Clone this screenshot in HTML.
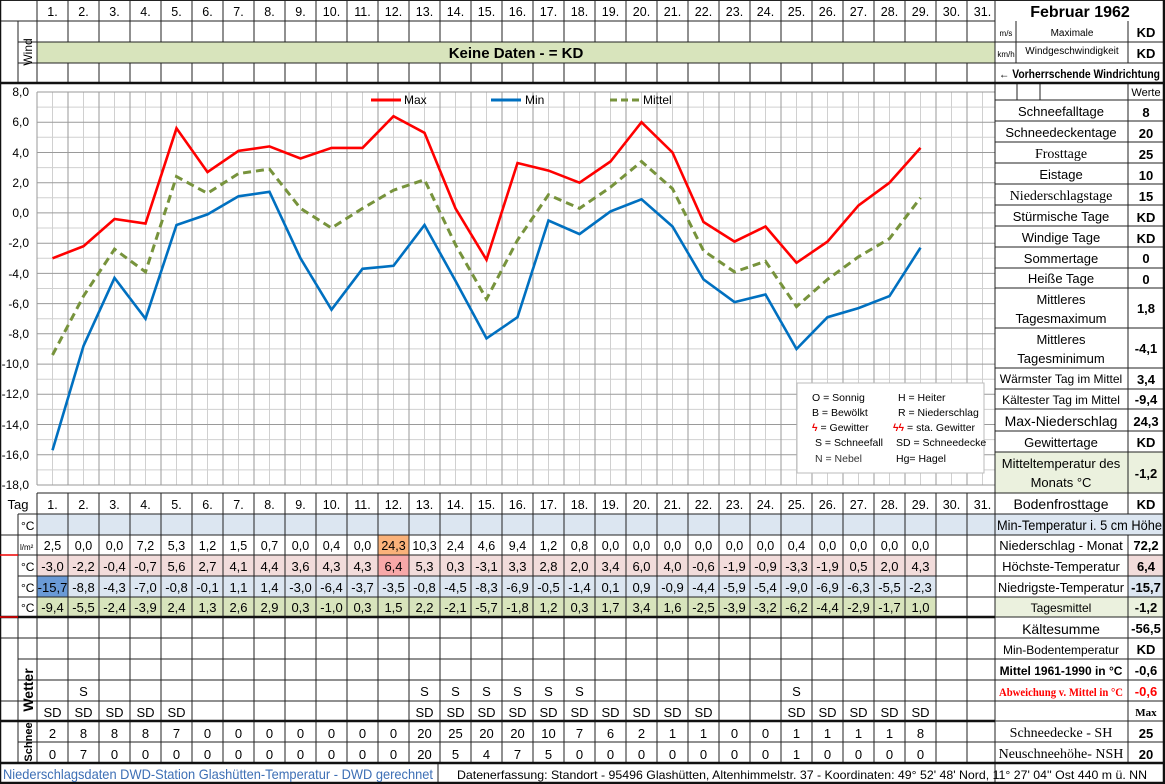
<!DOCTYPE html>
<html><head><meta charset="utf-8"><style>
html,body{margin:0;padding:0;background:#fff}
svg{display:block}
text{font-family:"Liberation Sans",sans-serif}
.n{font-size:12.5px;text-anchor:middle}
.h{font-size:12.5px;text-anchor:middle}
.r{font-size:13px;text-anchor:middle}
.v{font-size:13px;text-anchor:middle;font-weight:bold}
.s{font-family:"Liberation Serif",serif}
</style></head><body>
<svg width="1165" height="784" viewBox="0 0 1165 784" xmlns="http://www.w3.org/2000/svg">
<rect width="1165" height="784" fill="#fff"/>
<rect x="37" y="42" width="958" height="21" fill="#d8e4bc"/>
<text x="516" y="58" font-size="15" font-weight="bold" text-anchor="middle">Keine Daten -  = KD</text>

<g stroke="#d0d0d0" stroke-width="1">
<path d="M37 107.1H995M37 137.3H995M37 167.6H995M37 197.8H995M37 228H995M37 258.3H995M37 288.5H995M37 318.7H995M37 348.9H995M37 379.2H995M37 409.4H995M37 439.6H995M37 469.9H995"/>
<path d="M52.5 92V485M83.5 92V485M114.5 92V485M145.5 92V485M176.5 92V485M207.5 92V485M238.5 92V485M269.5 92V485M300.5 92V485M331.5 92V485M362.5 92V485M393.5 92V485M424.5 92V485M455.5 92V485M486.5 92V485M517.5 92V485M548.5 92V485M579.5 92V485M610.5 92V485M641.5 92V485M672.5 92V485M703.5 92V485M734.5 92V485M765.5 92V485M796.5 92V485M827.5 92V485M858.5 92V485M889.5 92V485M920.5 92V485M951.5 92V485M982.5 92V485"/>
</g>
<g stroke="#9a9a9a" stroke-width="1">
<path d="M37 92H995M37 122.2H995M37 152.5H995M37 182.7H995M37 212.9H995M37 243.2H995M37 273.4H995M37 303.6H995M37 333.8H995M37 364.1H995M37 394.3H995M37 424.5H995M37 454.8H995M37 485H995"/>
<path d="M37 92V485M68 92V485M99 92V485M130 92V485M161 92V485M192 92V485M223 92V485M254 92V485M285 92V485M316 92V485M347 92V485M378 92V485M409 92V485M440 92V485M471 92V485M502 92V485M533 92V485M564 92V485M595 92V485M626 92V485M657 92V485M688 92V485M719 92V485M750 92V485M781 92V485M812 92V485M843 92V485M874 92V485M905 92V485M936 92V485M967 92V485"/>
</g>
<g font-size="12" text-anchor="end">
<text x="29" y="96">8,0</text><text x="29" y="126">6,0</text><text x="29" y="157">4,0</text><text x="29" y="187">2,0</text><text x="29" y="217">0,0</text><text x="29" y="247">-2,0</text><text x="29" y="278">-4,0</text><text x="29" y="308">-6,0</text><text x="29" y="338">-8,0</text><text x="29" y="368">-10,0</text><text x="29" y="398">-12,0</text><text x="29" y="429">-14,0</text><text x="29" y="459">-16,0</text><text x="29" y="489">-18,0</text>
</g>
<line x1="371" y1="100" x2="401" y2="100" stroke="#ff0000" stroke-width="3"/>
<text x="404" y="104" font-size="12">Max</text>
<line x1="491" y1="100" x2="521" y2="100" stroke="#0070c0" stroke-width="3"/>
<text x="525" y="104" font-size="12">Min</text>
<line x1="610" y1="100" x2="639" y2="100" stroke="#77933c" stroke-width="3" stroke-dasharray="7,4"/>
<text x="643" y="104" font-size="12">Mittel</text>
<polyline fill="none" stroke="#77933c" stroke-width="3" stroke-dasharray="8,5" points="52.5,355 83.5,296.1 114.5,249.2 145.5,271.9 176.5,176.6 207.5,193.3 238.5,173.6 269.5,169.1 300.5,208.4 331.5,228 362.5,208.4 393.5,190.2 424.5,179.7 455.5,244.7 486.5,299.1 517.5,240.1 548.5,194.8 579.5,208.4 610.5,187.2 641.5,161.5 672.5,188.7 703.5,250.7 734.5,271.9 765.5,261.3 796.5,306.6 827.5,279.4 858.5,256.8 889.5,238.6 920.5,197.8"/>
<polyline fill="none" stroke="#0070c0" stroke-width="2.6" points="52.5,450.2 83.5,345.9 114.5,277.9 145.5,318.7 176.5,225 207.5,214.4 238.5,196.3 269.5,191.8 300.5,258.3 331.5,309.7 362.5,268.8 393.5,265.8 424.5,225 455.5,280.9 486.5,338.4 517.5,317.2 548.5,220.5 579.5,234.1 610.5,211.4 641.5,199.3 672.5,226.5 703.5,279.4 734.5,302.1 765.5,294.5 796.5,349 827.5,317.2 858.5,308.1 889.5,296.1 920.5,247.7"/>
<polyline fill="none" stroke="#ff0000" stroke-width="2.6" points="52.5,258.3 83.5,246.2 114.5,219 145.5,223.5 176.5,128.3 207.5,172.1 238.5,150.9 269.5,146.4 300.5,158.5 331.5,147.9 362.5,147.9 393.5,116.2 424.5,132.8 455.5,208.4 486.5,259.8 517.5,163 548.5,170.6 579.5,182.7 610.5,161.5 641.5,122.2 672.5,152.5 703.5,222 734.5,241.6 765.5,226.5 796.5,262.8 827.5,241.6 858.5,205.4 889.5,182.7 920.5,147.9"/>
<rect x="797" y="383" width="187" height="90" fill="#fff" stroke="#bbb"/>
<g font-size="10.5">
<text x="812" y="401">O = Sonnig</text><text x="898" y="401">H = Heiter</text>
<text x="812" y="416">B = Bewölkt</text><text x="898" y="416">R = Niederschlag</text>
<text x="812" y="431"><tspan fill="#e00" font-weight="bold">ϟ</tspan> = Gewitter</text><text x="893" y="431"><tspan fill="#e00" font-weight="bold">ϟϟ</tspan> = sta. Gewitter</text>
<text x="815" y="446">S = Schneefall</text><text x="896" y="446">SD = Schneedecke</text>
<text x="815" y="462" fill="#333">N = Nebel</text><text x="896" y="462">Hg=  Hagel</text>
</g>

<rect x="37" y="514" width="958" height="21" fill="#dce6f1"/>
<rect x="37" y="555" width="899" height="21" fill="#f2dcdb"/>
<rect x="37" y="576" width="899" height="21" fill="#dce6f1"/>
<rect x="37" y="597" width="899" height="20" fill="#d8e4bc"/>
<rect x="378" y="535" width="31" height="20" fill="#fab27a"/>
<rect x="378" y="555" width="31" height="21" fill="#f7a8a8"/>
<rect x="37" y="576" width="31" height="21" fill="#6a9ad6"/>

<rect x="995" y="452" width="170" height="41" fill="#ebf1de"/>
<rect x="995" y="514" width="170" height="21" fill="#dce6f1"/>
<rect x="1128" y="555" width="37" height="21" fill="#f2dcdb"/>
<rect x="1128" y="576" width="37" height="21" fill="#dce6f1"/>
<rect x="995" y="597" width="170" height="20" fill="#ebf1de"/>

<g stroke="#222" stroke-width="1" fill="none">
<path d="M0 21H995M18 42H1165M18 63H1165M0 0.5H1165"/>
<path d="M18 21V83M37 0V83M68 0V42M99 0V42M130 0V42M161 0V42M192 0V42M223 0V42M254 0V42M285 0V42M316 0V42M347 0V42M378 0V42M409 0V42M440 0V42M471 0V42M502 0V42M533 0V42M564 0V42M595 0V42M626 0V42M657 0V42M688 0V42M719 0V42M750 0V42M781 0V42M812 0V42M843 0V42M874 0V42M905 0V42M936 0V42M967 0V42"/>
<path d="M68 63V83M99 63V83M130 63V83M161 63V83M192 63V83M223 63V83M254 63V83M285 63V83M316 63V83M347 63V83M378 63V83M409 63V83M440 63V83M471 63V83M502 63V83M533 63V83M564 63V83M595 63V83M626 63V83M657 63V83M688 63V83M719 63V83M750 63V83M781 63V83M812 63V83M843 63V83M874 63V83M905 63V83M936 63V83M967 63V83"/>
<path d="M37 493H1165M18 514H1165M0 535H1165M18 555H1165M18 576H1165M18 597H1165M0 638H1165M18 659H1165M18 680H1165M0 701H1165M18 742H1165"/>
<path d="M18 514V763M37 493V763M68 493V763M99 493V763M130 493V763M161 493V763M192 493V763M223 493V763M254 493V763M285 493V763M316 493V763M347 493V763M378 493V763M409 493V763M440 493V763M471 493V763M502 493V763M533 493V763M564 493V763M595 493V763M626 493V763M657 493V763M688 493V763M719 493V763M750 493V763M781 493V763M812 493V763M843 493V763M874 493V763M905 493V763M936 493V763M967 493V763"/>
<path d="M995 0V784M1128 21V63M1016 21V63M1128 83V514M1128 535V763M1017 83V100M1040 83V100M995 100H1165"/>
<path d="M995 121H1165M995 142H1165M995 163H1165M995 184H1165M995 205H1165M995 226H1165M995 247H1165M995 268H1165M995 288H1165M995 328H1165M995 368H1165M995 389H1165M995 409H1165M995 431H1165M995 452H1165M995 617H1165M995 721H1165M438 763V784"/>
</g>
<g stroke="#111" stroke-width="2.5" fill="none">
<path d="M0 83H1165M0 617H995M0 721H995M0 763H1165M0 783H1165M1164 0V784M0 0V784"/>
</g>
<path d="M0 555H18M0 617H18" stroke="#e00" stroke-width="1.5"/>

<g class="h">
<text x="52.5" y="16">1.</text><text x="83.5" y="16">2.</text><text x="114.5" y="16">3.</text><text x="145.5" y="16">4.</text><text x="176.5" y="16">5.</text><text x="207.5" y="16">6.</text><text x="238.5" y="16">7.</text><text x="269.5" y="16">8.</text><text x="300.5" y="16">9.</text><text x="331.5" y="16">10.</text><text x="362.5" y="16">11.</text><text x="393.5" y="16">12.</text><text x="424.5" y="16">13.</text><text x="455.5" y="16">14.</text><text x="486.5" y="16">15.</text><text x="517.5" y="16">16.</text><text x="548.5" y="16">17.</text><text x="579.5" y="16">18.</text><text x="610.5" y="16">19.</text><text x="641.5" y="16">20.</text><text x="672.5" y="16">21.</text><text x="703.5" y="16">22.</text><text x="734.5" y="16">23.</text><text x="765.5" y="16">24.</text><text x="796.5" y="16">25.</text><text x="827.5" y="16">26.</text><text x="858.5" y="16">27.</text><text x="889.5" y="16">28.</text><text x="920.5" y="16">29.</text><text x="951.5" y="16">30.</text><text x="982.5" y="16">31.</text>
</g>
<g class="h" transform="translate(0,493)">
<text x="52.5" y="16">1.</text><text x="83.5" y="16">2.</text><text x="114.5" y="16">3.</text><text x="145.5" y="16">4.</text><text x="176.5" y="16">5.</text><text x="207.5" y="16">6.</text><text x="238.5" y="16">7.</text><text x="269.5" y="16">8.</text><text x="300.5" y="16">9.</text><text x="331.5" y="16">10.</text><text x="362.5" y="16">11.</text><text x="393.5" y="16">12.</text><text x="424.5" y="16">13.</text><text x="455.5" y="16">14.</text><text x="486.5" y="16">15.</text><text x="517.5" y="16">16.</text><text x="548.5" y="16">17.</text><text x="579.5" y="16">18.</text><text x="610.5" y="16">19.</text><text x="641.5" y="16">20.</text><text x="672.5" y="16">21.</text><text x="703.5" y="16">22.</text><text x="734.5" y="16">23.</text><text x="765.5" y="16">24.</text><text x="796.5" y="16">25.</text><text x="827.5" y="16">26.</text><text x="858.5" y="16">27.</text><text x="889.5" y="16">28.</text><text x="920.5" y="16">29.</text><text x="951.5" y="16">30.</text><text x="982.5" y="16">31.</text>
</g>
<text x="18" y="509" font-size="13" text-anchor="middle">Tag</text>
<text transform="translate(32,52) rotate(-90)" font-size="12" text-anchor="middle">Wind</text>
<text transform="translate(33,690) rotate(-90)" font-size="14" font-weight="bold" text-anchor="middle">Wetter</text>
<text transform="translate(32,742) rotate(-90)" font-size="11" font-weight="bold" text-anchor="middle">Schnee</text>
<g font-size="12">
<text x="21" y="530">°C</text><text x="20" y="550" font-size="8">l/m²</text><text x="21" y="571">°C</text><text x="21" y="592">°C</text><text x="21" y="612">°C</text>
</g>

<g class="n" transform="translate(0,550)">
<text x="52.5">2,5</text><text x="83.5">0,0</text><text x="114.5">0,0</text><text x="145.5">7,2</text><text x="176.5">5,3</text><text x="207.5">1,2</text><text x="238.5">1,5</text><text x="269.5">0,7</text><text x="300.5">0,0</text><text x="331.5">0,4</text><text x="362.5">0,0</text><text x="393.5">24,3</text><text x="424.5">10,3</text><text x="455.5">2,4</text><text x="486.5">4,6</text><text x="517.5">9,4</text><text x="548.5">1,2</text><text x="579.5">0,8</text><text x="610.5">0,0</text><text x="641.5">0,0</text><text x="672.5">0,0</text><text x="703.5">0,0</text><text x="734.5">0,0</text><text x="765.5">0,0</text><text x="796.5">0,4</text><text x="827.5">0,0</text><text x="858.5">0,0</text><text x="889.5">0,0</text><text x="920.5">0,0</text>
</g>
<g class="r" transform="translate(0,571)">
<text x="52.5">-3,0</text><text x="83.5">-2,2</text><text x="114.5">-0,4</text><text x="145.5">-0,7</text><text x="176.5">5,6</text><text x="207.5">2,7</text><text x="238.5">4,1</text><text x="269.5">4,4</text><text x="300.5">3,6</text><text x="331.5">4,3</text><text x="362.5">4,3</text><text x="393.5">6,4</text><text x="424.5">5,3</text><text x="455.5">0,3</text><text x="486.5">-3,1</text><text x="517.5">3,3</text><text x="548.5">2,8</text><text x="579.5">2,0</text><text x="610.5">3,4</text><text x="641.5">6,0</text><text x="672.5">4,0</text><text x="703.5">-0,6</text><text x="734.5">-1,9</text><text x="765.5">-0,9</text><text x="796.5">-3,3</text><text x="827.5">-1,9</text><text x="858.5">0,5</text><text x="889.5">2,0</text><text x="920.5">4,3</text>
</g>
<g class="r" transform="translate(0,592)">
<text x="52.5">-15,7</text><text x="83.5">-8,8</text><text x="114.5">-4,3</text><text x="145.5">-7,0</text><text x="176.5">-0,8</text><text x="207.5">-0,1</text><text x="238.5">1,1</text><text x="269.5">1,4</text><text x="300.5">-3,0</text><text x="331.5">-6,4</text><text x="362.5">-3,7</text><text x="393.5">-3,5</text><text x="424.5">-0,8</text><text x="455.5">-4,5</text><text x="486.5">-8,3</text><text x="517.5">-6,9</text><text x="548.5">-0,5</text><text x="579.5">-1,4</text><text x="610.5">0,1</text><text x="641.5">0,9</text><text x="672.5">-0,9</text><text x="703.5">-4,4</text><text x="734.5">-5,9</text><text x="765.5">-5,4</text><text x="796.5">-9,0</text><text x="827.5">-6,9</text><text x="858.5">-6,3</text><text x="889.5">-5,5</text><text x="920.5">-2,3</text>
</g>
<g class="r" transform="translate(0,612)">
<text x="52.5">-9,4</text><text x="83.5">-5,5</text><text x="114.5">-2,4</text><text x="145.5">-3,9</text><text x="176.5">2,4</text><text x="207.5">1,3</text><text x="238.5">2,6</text><text x="269.5">2,9</text><text x="300.5">0,3</text><text x="331.5">-1,0</text><text x="362.5">0,3</text><text x="393.5">1,5</text><text x="424.5">2,2</text><text x="455.5">-2,1</text><text x="486.5">-5,7</text><text x="517.5">-1,8</text><text x="548.5">1,2</text><text x="579.5">0,3</text><text x="610.5">1,7</text><text x="641.5">3,4</text><text x="672.5">1,6</text><text x="703.5">-2,5</text><text x="734.5">-3,9</text><text x="765.5">-3,2</text><text x="796.5">-6,2</text><text x="827.5">-4,4</text><text x="858.5">-2,9</text><text x="889.5">-1,7</text><text x="920.5">1,0</text>
</g>
<g class="r" transform="translate(0,696)">
<text x="83.5">S</text><text x="424.5">S</text><text x="455.5">S</text><text x="486.5">S</text><text x="517.5">S</text><text x="548.5">S</text><text x="579.5">S</text><text x="796.5">S</text>
</g>
<g class="r" transform="translate(0,717)">
<text x="52.5">SD</text><text x="83.5">SD</text><text x="114.5">SD</text><text x="145.5">SD</text><text x="176.5">SD</text><text x="424.5">SD</text><text x="455.5">SD</text><text x="486.5">SD</text><text x="517.5">SD</text><text x="548.5">SD</text><text x="579.5">SD</text><text x="610.5">SD</text><text x="641.5">SD</text><text x="672.5">SD</text><text x="703.5">SD</text><text x="796.5">SD</text><text x="827.5">SD</text><text x="858.5">SD</text><text x="889.5">SD</text><text x="920.5">SD</text>
</g>
<g class="r s" font-size="14" transform="translate(0,738)">
<text x="52.5">2</text><text x="83.5">8</text><text x="114.5">8</text><text x="145.5">8</text><text x="176.5">7</text><text x="207.5">0</text><text x="238.5">0</text><text x="269.5">0</text><text x="300.5">0</text><text x="331.5">0</text><text x="362.5">0</text><text x="393.5">0</text><text x="424.5">20</text><text x="455.5">25</text><text x="486.5">20</text><text x="517.5">20</text><text x="548.5">10</text><text x="579.5">7</text><text x="610.5">6</text><text x="641.5">2</text><text x="672.5">1</text><text x="703.5">1</text><text x="734.5">0</text><text x="765.5">0</text><text x="796.5">1</text><text x="827.5">1</text><text x="858.5">1</text><text x="889.5">1</text><text x="920.5">8</text>
</g>
<g class="r s" font-size="14" transform="translate(0,759)">
<text x="52.5">0</text><text x="83.5">7</text><text x="114.5">0</text><text x="145.5">0</text><text x="176.5">0</text><text x="207.5">0</text><text x="238.5">0</text><text x="269.5">0</text><text x="300.5">0</text><text x="331.5">0</text><text x="362.5">0</text><text x="393.5">0</text><text x="424.5">20</text><text x="455.5">5</text><text x="486.5">4</text><text x="517.5">7</text><text x="548.5">5</text><text x="579.5">0</text><text x="610.5">0</text><text x="641.5">0</text><text x="672.5">0</text><text x="703.5">0</text><text x="734.5">0</text><text x="765.5">0</text><text x="796.5">1</text><text x="827.5">0</text><text x="858.5">0</text><text x="889.5">0</text><text x="920.5">0</text>
</g>
<text x="3" y="779" font-size="14" fill="#3d6fb5" textLength="430" lengthAdjust="spacingAndGlyphs">Niederschlagsdaten DWD-Station Glashütten-Temperatur -  DWD gerechnet</text>
<text x="457" y="779" font-size="12" textLength="690" lengthAdjust="spacingAndGlyphs">Datenerfassung: Standort -  95496  Glashütten, Altenhimmelstr. 37 - Koordinaten:  49° 52' 48' Nord,   11° 27' 04'' Ost   440 m ü. NN</text>

<text x="1080" y="17" font-size="16" font-weight="bold" text-anchor="middle">Februar 1962</text>
<text x="1006" y="36" font-size="8" text-anchor="middle">m/s</text>
<text x="1006" y="57" font-size="8" text-anchor="middle">km/h</text>
<text x="1072" y="36" font-size="10" text-anchor="middle">Maximale</text>
<text x="1072" y="54" font-size="10" text-anchor="middle">Windgeschwindigkeit</text>
<text x="1146" y="37" class="v">KD</text><text x="1146" y="58" class="v">KD</text>
<text x="999" y="78" font-size="12" font-weight="bold" textLength="161" lengthAdjust="spacingAndGlyphs">← Vorherrschende Windrichtung</text>
<text x="1146" y="96" font-size="11" text-anchor="middle">Werte</text>
<g class="r">
<text x="1061" y="116">Schneefalltage</text>
<text x="1061" y="137">Schneedeckentage</text>
<text x="1061" y="158" class="s" font-size="14">Frosttage</text>
<text x="1061" y="179">Eistage</text>
<text x="1061" y="200" class="s" font-size="14">Niederschlagstage</text>
<text x="1061" y="221">Stürmische Tage</text>
<text x="1061" y="242">Windige Tage</text>
<text x="1061" y="263">Sommertage</text>
<text x="1061" y="283">Heiße Tage</text>
<text x="1061" y="304">Mittleres</text><text x="1061" y="323">Tagesmaximum</text>
<text x="1061" y="344">Mittleres</text><text x="1061" y="363">Tagesminimum</text>
<text x="1061" y="383" font-size="12">Wärmster Tag im Mittel</text>
<text x="1061" y="404" font-size="12">Kältester Tag im Mittel</text>
<text x="1061" y="426" font-size="14">Max-Niederschlag</text>
<text x="1061" y="447">Gewittertage</text>
<text x="1061" y="468">Mitteltemperatur des</text><text x="1061" y="487">Monats °C</text>
<text x="1061" y="509" font-size="14">Bodenfrosttage</text>
<text x="1061" y="550">Niederschlag - Monat</text>
<text x="1061" y="571">Höchste-Temperatur</text>
<text x="1061" y="592" textLength="126" lengthAdjust="spacingAndGlyphs">Niedrigste-Temperatur</text>
<text x="1061" y="612" font-size="12">Tagesmittel</text>
<text x="1061" y="634" font-size="14">Kältesumme</text>
<text x="1061" y="654" font-size="12">Min-Bodentemperatur</text>
<text x="1061" y="675" font-size="12" font-weight="bold">Mittel 1961-1990 in °C</text>
<text x="1061" y="696" class="s" font-size="11.5" font-weight="bold" fill="#ff0000" textLength="124" lengthAdjust="spacingAndGlyphs">Abweichung v. Mittel in °C</text>
<text x="1061" y="737" class="s" font-size="14">Schneedecke -   SH</text>
<text x="1061" y="758" class="s" font-size="14">Neuschneehöhe- NSH</text>
</g>
<text x="997" y="530" font-size="13.5" textLength="165" lengthAdjust="spacingAndGlyphs">Min-Temperatur i. 5 cm Höhe</text>
<g class="v">
<text x="1146" y="117">8</text><text x="1146" y="138">20</text><text x="1146" y="159">25</text><text x="1146" y="180">10</text><text x="1146" y="201">15</text><text x="1146" y="222">KD</text><text x="1146" y="243">KD</text><text x="1146" y="263">0</text><text x="1146" y="284">0</text><text x="1146" y="313">1,8</text><text x="1146" y="353">-4,1</text><text x="1146" y="384">3,4</text><text x="1146" y="404">-9,4</text><text x="1146" y="426">24,3</text><text x="1146" y="447">KD</text><text x="1146" y="478">-1,2</text><text x="1146" y="509">KD</text><text x="1146" y="550">72,2</text><text x="1146" y="571">6,4</text><text x="1146" y="592">-15,7</text><text x="1146" y="612">-1,2</text><text x="1146" y="633">-56,5</text><text x="1146" y="654">KD</text><text x="1146" y="675">-0,6</text>
<text x="1146" y="696" fill="#ff0000">-0,6</text>
<text x="1146" y="716" class="s" font-size="11">Max</text>
<text x="1146" y="738">25</text><text x="1146" y="759">20</text>
</g>
</svg>
</body></html>
